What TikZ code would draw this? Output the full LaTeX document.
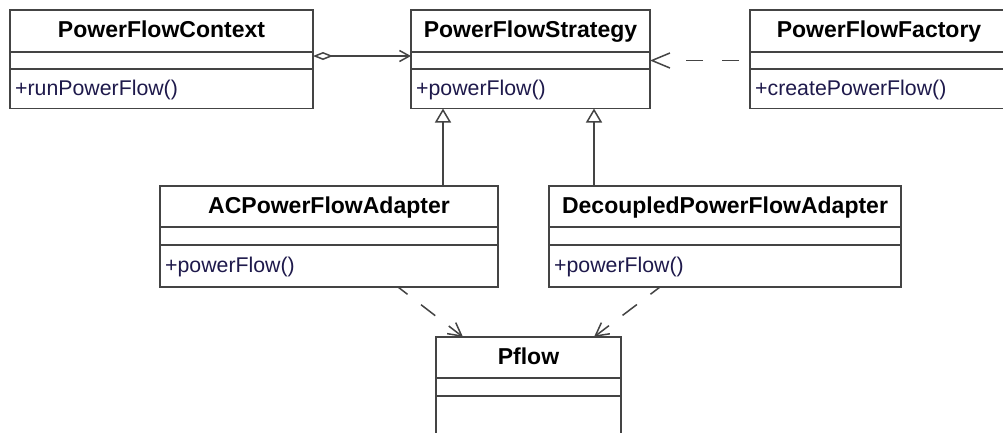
\documentclass[tikz,border=0pt]{standalone}
\usepackage{fontspec}
\setmainfont{Liberation Sans}
\usetikzlibrary{arrows.meta}
\definecolor{umlline}{RGB}{68,68,68}
\definecolor{opcolor}{RGB}{30,25,75}
\tikzset{
  comp/.style={draw=umlline, line width=1.5pt, fill=white, inner sep=0pt,
    outer sep=0pt, anchor=north west},
  titletext/.style={font=\fontsize{23}{26}\selectfont\bfseries, text=black,
    inner sep=0pt, anchor=base},
  optext/.style={font=\fontsize{21.3}{24}\selectfont, text=opcolor,
    inner sep=0pt, anchor=base west},
  conn/.style={draw=umlline, line width=1.5pt},
  depend/.style={conn, dash pattern=on 18pt off 17pt, dash phase=6pt,
    -{Straight Barb[length=13pt,width=14pt]}},
  generalize/.style={conn, -{Triangle[open,length=14pt,width=16pt]}},
  aggregate/.style={conn,
    {Diamond[open,length=20pt,width=8pt]}-{Straight Barb[length=10pt,width=11pt]}},
}
% #1 name, #2 x, #3 y, #4 width, #5-#7 compartment heights, #8 class name, #9 operation
\newcommand\umlclass[9]{%
  \node[comp, minimum width=#4, minimum height=#5] (#1-t) at (#2,#3) {};
  \node[titletext] (#1-n) at ([yshift=-6.5pt]#1-t.center) {#8};
  \node[comp, minimum width=#4, minimum height=#6] (#1-a) at (#1-t.south west) {};
  \node[comp, minimum width=#4, minimum height=#7] (#1-o) at (#1-a.south west) {};
  \node[optext] (#1-m) at ([xshift=5pt,yshift=-6.5pt]#1-o.west) {#9};
}
\begin{document}
\begin{tikzpicture}[x=1pt, y=-1pt]
  \clip (0,0) rectangle (1003,432);
  \fill[white] (0,0) rectangle (1003,432);

  % classes
  \umlclass{ctx}{10}{10}{303pt}{42pt}{17pt}{39.5pt}{PowerFlowContext}{+runPowerFlow()}
  \umlclass{str}{411}{10}{239pt}{42pt}{17pt}{39.5pt}{PowerFlowStrategy}{+powerFlow()}
  \umlclass{fac}{750}{10}{258pt}{42pt}{17pt}{39.5pt}{PowerFlowFactory}{+createPowerFlow()}
  \umlclass{ac}{160}{186}{338pt}{41pt}{18pt}{42pt}{ACPowerFlowAdapter}{+powerFlow()}
  \umlclass{dec}{549}{186}{352pt}{41pt}{18pt}{42pt}{DecoupledPowerFlowAdapter}{+powerFlow()}
  \umlclass{pf}{436}{337}{185pt}{41pt}{18pt}{50pt}{Pflow}{}

  % context aggregates the strategy
  \draw[aggregate] ([yshift=4.5pt]ctx-a.east) -- ([yshift=4.5pt]str-a.west);

  % factory depends on the strategy
  \draw[conn, dash pattern=on 17pt off 19pt on 17pt off 47pt, dash phase=89pt,
    -{Straight Barb[length=18pt,width=15pt]}] (fac-a.west) -- (str-a.east);

  % adapters realise the strategy
  \draw[generalize] ([xshift=114pt]ac-t.north) -- ([xshift=-87.5pt]str-o.south);
  \draw[generalize] ([xshift=-131pt]dec-t.north) -- ([xshift=63.5pt]str-o.south);

  % adapters use Pflow
  \draw[depend] ([xshift=69pt]ac-o.south) -- ([xshift=-65.5pt]pf-t.north);
  \draw[depend] ([xshift=-65pt]dec-o.south) -- ([xshift=65.5pt]pf-t.north);
\end{tikzpicture}
\end{document}
